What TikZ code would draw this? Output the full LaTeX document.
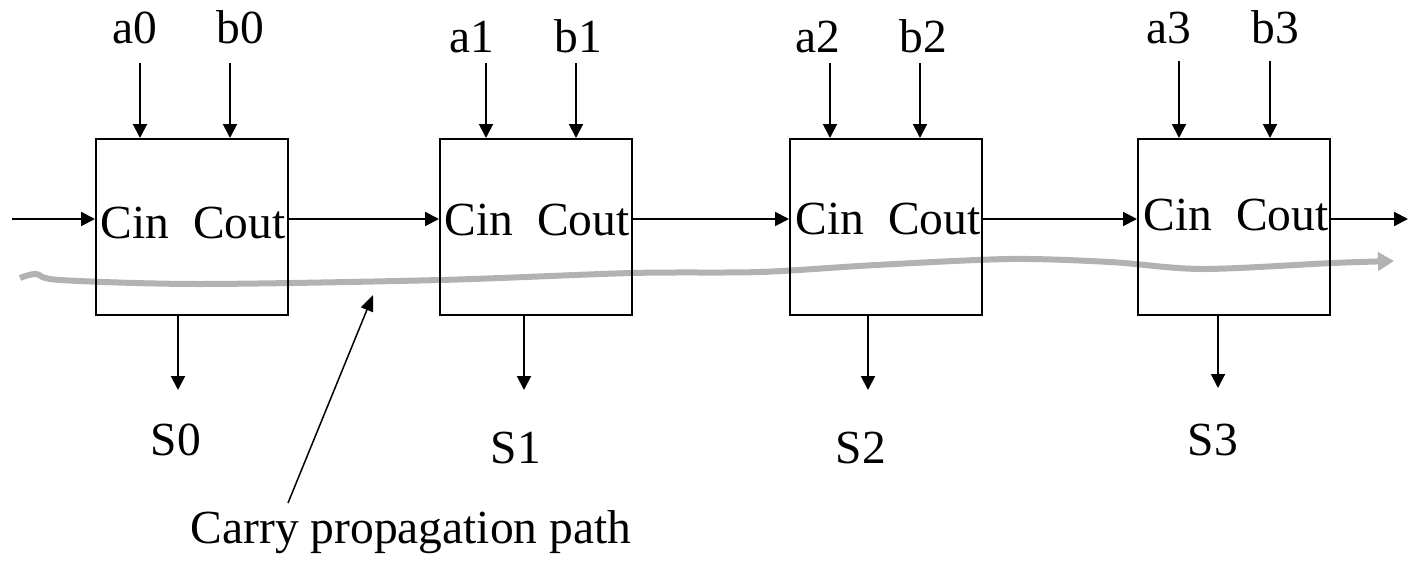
\documentclass[tikz,border=0pt]{standalone}
\usepackage{fontspec}
\setmainfont{Liberation Serif}
\usetikzlibrary{arrows.meta}
\definecolor{pathgray}{RGB}{178,178,178}
\begin{document}
\begin{tikzpicture}[x=0.5pt,y=-0.5pt,
  adder/.style={draw,line width=1pt,minimum width=96pt,minimum height=88pt,inner sep=0pt},
  lbl/.style={font=\fontsize{23.75pt}{28pt}\selectfont,inner sep=0pt,anchor=base},
  sig/.style={line width=1pt,-{Triangle[length=7pt,width=7pt]}},
  pointer/.style={line width=0.75pt,-{Triangle[length=8pt,width=6.5pt]}},
  carry/.style={line width=3pt,draw=pathgray,line join=round,
    -{Triangle[length=8pt,width=9pt]}}]
\useasboundingbox (0,0) rectangle (1409,562);

% carry propagation path (drawn under the adders)
\draw[carry] plot[smooth,tension=0.5] coordinates {
  (20,278) (36,274) (60,280) (200,284) (440,280) (632,273) (760,272)
  (876,265) (1010,259) (1110,262) (1202,269) (1333,263) (1394,261)};

% full adders
\node[adder] (B0) at (192,227) {};
\node[adder] (B1) at (536,227) {};
\node[adder] (B2) at (886,227) {};
\node[adder] (B3) at (1234,227) {};

% port names inside the adders
\node[lbl] (P0) at (193,238) {Cin\ \ Cout};
\node[lbl] (P1) at (537,235) {Cin\ \ Cout};
\node[lbl] (P2) at (888,234) {Cin\ \ Cout};
\node[lbl] (P3) at (1236,230) {Cin\ \ Cout};

% operand inputs
\node[lbl] (a0) at (135,43) {a0};
\node[lbl] (b0) at (240,43) {b0};
\node[lbl] (a1) at (472,52) {a1};
\node[lbl] (b1) at (578,52) {b1};
\node[lbl] (a2) at (818,52) {a2};
\node[lbl] (b2) at (923,52) {b2};
\node[lbl] (a3) at (1169,43) {a3};
\node[lbl] (b3) at (1275,43) {b3};

\coordinate (ta0) at (140,63);  \coordinate (tb0) at (230,63);
\coordinate (ta1) at (486,63);  \coordinate (tb1) at (576,63);
\coordinate (ta2) at (830,63);  \coordinate (tb2) at (920,63);
\coordinate (ta3) at (1179,61); \coordinate (tb3) at (1270,61);

\draw[sig] (ta0) -- (ta0 |- B0.north);
\draw[sig] (tb0) -- (tb0 |- B0.north);
\draw[sig] (ta1) -- (ta1 |- B1.north);
\draw[sig] (tb1) -- (tb1 |- B1.north);
\draw[sig] (ta2) -- (ta2 |- B2.north);
\draw[sig] (tb2) -- (tb2 |- B2.north);
\draw[sig] (ta3) -- (ta3 |- B3.north);
\draw[sig] (tb3) -- (tb3 |- B3.north);

% carry chain
\coordinate (cin) at (12,219);
\coordinate (cout) at (1408,219);
\draw[sig] (cin) -- ([yshift=4pt]B0.west);
\draw[sig] ([yshift=4pt]B0.east) -- ([yshift=4pt]B1.west);
\draw[sig] ([yshift=4pt]B1.east) -- ([yshift=4pt]B2.west);
\draw[sig] ([yshift=4pt]B2.east) -- ([yshift=4pt]B3.west);
\draw[sig] ([yshift=4pt]B3.east) -- (cout);

% sum outputs
\coordinate (so0) at (178,390);
\coordinate (so1) at (524,390);
\coordinate (so2) at (868,390);
\coordinate (so3) at (1218,388);
\draw[sig] (B0.south -| so0) -- (so0);
\draw[sig] (B1.south -| so1) -- (so1);
\draw[sig] (B2.south -| so2) -- (so2);
\draw[sig] (B3.south -| so3) -- (so3);

\node[lbl] (S0) at (176,455) {S0};
\node[lbl] (S1) at (516,463) {S1};
\node[lbl] (S2) at (861,463) {S2};
\node[lbl] (S3) at (1213,455) {S3};

% caption with pointer
\node[lbl] (cap) at (411,543) {Carry propagation path};
\coordinate (ptail) at (288,503);
\coordinate (phead) at (373,295);
\draw[pointer] (ptail) -- (phead);
\end{tikzpicture}
\end{document}
